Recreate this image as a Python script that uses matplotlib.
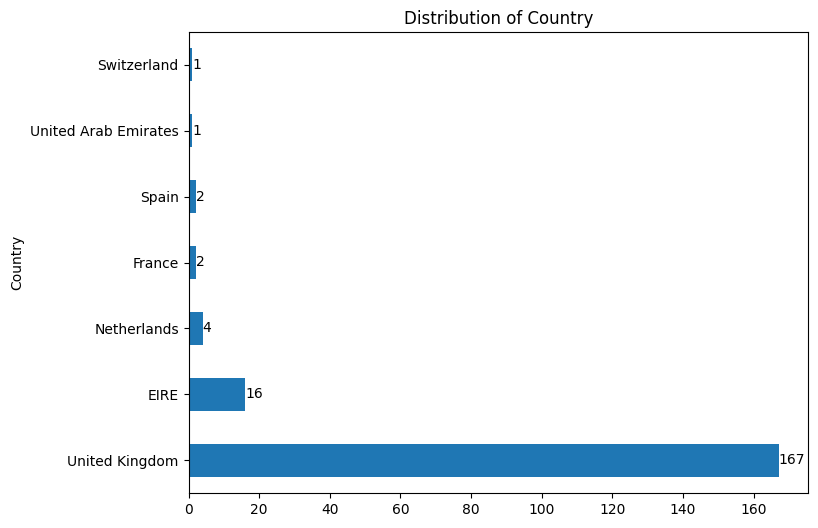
import matplotlib
matplotlib.use("Agg")
import matplotlib.pyplot as plt
import pandas as pd

countries = ["United Kingdom", "EIRE", "Netherlands", "France", "Spain",
             "United Arab Emirates", "Switzerland"]
counts = [167, 16, 4, 2, 2, 1, 1]

s = pd.Series(counts, index=pd.Index(countries, name="Country"))

fig = plt.figure(figsize=(8.18, 5.28), dpi=100)
ax = fig.add_axes([188.5 / 818, 1 - 493 / 528, (808 - 188.5) / 818, (493 - 32) / 528])
s.plot(kind="barh", ax=ax, color="#1f77b4")
ax.bar_label(ax.containers[0])
ax.set_title("Distribution of Country")
ax.set_ylabel("Country")

fig.savefig("out.png", dpi=100)
